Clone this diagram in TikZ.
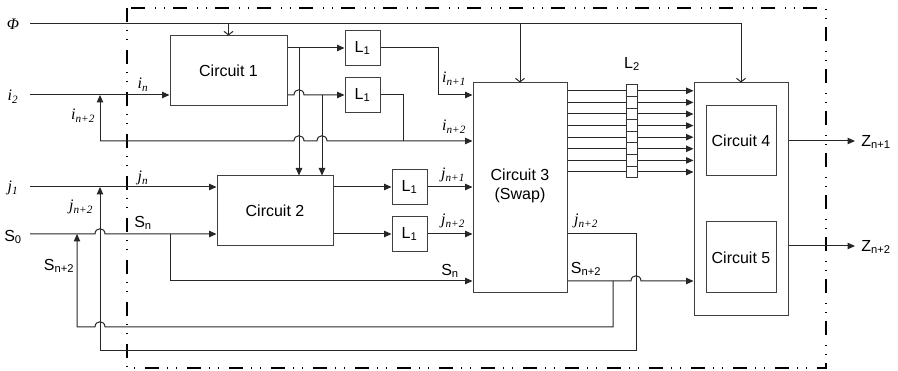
\documentclass[tikz,border=0pt]{standalone}
\usepackage{fontspec}
\setmainfont{Liberation Sans}
\newfontfamily\serifit{Liberation Serif}[ItalicFont={Liberation Serif Italic}]
\usetikzlibrary{arrows.meta}
\newcommand\lab[2]{{\serifit\itshape #1\textsubscript{#2}}}
\newcommand\hopR[2]{-- (#1-5,#2) .. controls (#1-5,#2-7) and (#1+5,#2-7) .. (#1+5,#2)}
\newcommand\hopL[2]{-- (#1+5,#2) .. controls (#1+5,#2-7) and (#1-5,#2-7) .. (#1-5,#2)}
\begin{document}
\begin{tikzpicture}[x=1pt,y=-1pt,
  wire/.style={line width=1pt, draw=black!85},
  arr/.style={-{Triangle[length=7.5pt,width=6.5pt]}},
  oarr/.style={-{Straight Barb[length=3.5pt,width=9pt]}},
  blk/.style={draw=black!75, line width=1pt, inner sep=0pt, font=\fontsize{16}{19}\selectfont, align=center},
  cell/.style={draw=black!80, line width=1pt, minimum width=11pt, minimum height=11.6pt, inner sep=0pt},
  txt/.style={inner sep=0pt, font=\fontsize{16}{19}\selectfont},
  dashbox/.style={draw=black, line width=2pt, dash pattern=on 14pt off 8pt on 1.2pt off 8pt on 1.2pt off 9.6pt}]
\useasboundingbox (0,0) rectangle (898,371);
% frame
\draw[dashbox] (127,8) rectangle (826,368);
% blocks
\node[blk, minimum width=117pt, minimum height=70pt] (c1) at (228.5,71) {Circuit 1};
\node[blk, minimum width=116pt, minimum height=70pt] (c2) at (275,211) {Circuit 2};
\node[blk, minimum width=94pt, minimum height=210pt] (c3) at (520,188) {};
\node[blk, align=center] (c3t) at (520,186) [draw=none] {Circuit 3\\(Swap)};
\node[blk, minimum width=94pt, minimum height=233pt] (c45) at (741,199.5) {};
\node[blk, minimum width=70pt, minimum height=70pt] (c4) at (741,141) {Circuit 4};
\node[blk, minimum width=70pt, minimum height=71pt] (c5) at (741,257.5) {Circuit 5};
\node[blk, minimum width=35pt, minimum height=35pt] (l1a) at (362.5,48) {L\textsubscript{1}};
\node[blk, minimum width=35pt, minimum height=35pt] (l1b) at (362.5,95) {L\textsubscript{1}};
\node[blk, minimum width=35pt, minimum height=35pt] (l1c) at (409.5,187) {L\textsubscript{1}};
\node[blk, minimum width=35pt, minimum height=35pt] (l1d) at (409.5,234) {L\textsubscript{1}};
\foreach \k in {0,...,7} {
  \node[cell] (r\k) at (631.5,90.8+11.6*\k) {};
  \draw[wire] (c3.east |- r\k) -- (r\k.west);
  \draw[wire,arr] (r\k.east) -- (c45.west |- r\k);
}
% input labels
\node[txt] (phi) at (13,24) {\serifit\itshape Φ};
\node[txt] (ii2) at (13,97) {\lab{i}{2}};
\node[txt] (jj1) at (13,188) {\lab{j}{1}};
\node[txt] (ss0) at (13,237) {S\textsubscript{0}};
\coordinate (phis) at (30,24);
\coordinate (i2s) at (30,95);
\coordinate (j1s) at (30,187);
\coordinate (s0s) at (30,234);
% Phi
\draw[wire,oarr] (phis) -| (c45.north);
\draw[wire,oarr] (c1.north |- phis) -- (c1.north);
\draw[wire,oarr] (c3.north |- phis) -- (c3.north);
% i path
\draw[wire,arr] (i2s) -- (i2s -| c1.west);
\draw[wire,arr] (c1.east |- l1a) -- (l1a.west);
\draw[wire,arr] (c1.east |- l1b) \hopR{299}{95} -- (l1b.west);
\coordinate (b1) at (299,48);
\coordinate (b2) at (322,95);
\draw[wire,arr] (b1) -- (b1 |- c2.north);
\draw[wire,arr] (b2) -- (b2 |- c2.north);
\coordinate (k1) at (438,95);
\draw[wire,arr] (l1a.east) -| (k1) -- (k1 -| c3.west);
\coordinate (k2) at (403,141);
\draw[wire] (l1b.east) -| (k2);
\coordinate (fi) at (100,141);
\draw[wire,arr] (fi) \hopR{299}{141} \hopR{322}{141} -- (fi -| c3.west);
\draw[wire,arr] (fi) -- (fi |- i2s);
% j and S inputs
\draw[wire,arr] (j1s) -- (j1s -| c2.west);
\draw[wire,arr] (s0s) \hopR{100}{234} -- (s0s -| c2.west);
\coordinate (sb) at (170,234);
\draw[wire,arr] (sb) -- (170,281) -- (c3.west |- 0,281);
% circuit 2 outputs
\draw[wire,arr] (c2.east |- l1c) -- (l1c.west);
\draw[wire,arr] (c2.east |- l1d) -- (l1d.west);
\draw[wire,arr] (l1c.east) -- (c3.west |- l1c);
\draw[wire,arr] (l1d.east) -- (c3.west |- l1d);
% circuit 3 feedback outputs
\coordinate (jo) at (636,234);
\draw[wire,arr] (c3.east |- jo) -- (jo) -- (636,351) -- (100,351) -- (100,187);
\coordinate (so) at (613,281);
\draw[wire,arr] (c3.east |- so) \hopR{636}{281} -- (c45.west |- so);
\draw[wire,arr] (so) -- (613,327) \hopL{100}{327} -- (77,327) -- (77,234);
% outputs
\coordinate (z1) at (855,141);
\coordinate (z2) at (855,246);
\draw[wire,arr] (c45.east |- z1) -- (z1);
\draw[wire,arr] (c45.east |- z2) -- (z2);
\node[txt] (zl1) at (876,142) {Z\textsubscript{n+1}};
\node[txt] (zl2) at (876,247) {Z\textsubscript{n+2}};
% labels
\node[txt] at (143,85) {\lab{i}{n}};
\node[txt] at (83,116) {\lab{i}{n+2}};
\node[txt] at (454,79) {\lab{i}{n+1}};
\node[txt] at (454,127) {\lab{i}{n+2}};
\node[txt] at (143,178) {\lab{j}{n}};
\node[txt] at (81,207) {\lab{j}{n+2}};
\node[txt] at (143,223) {S\textsubscript{n}};
\node[txt] at (59,266) {S\textsubscript{n+2}};
\node[txt] at (453,175) {\lab{j}{n+1}};
\node[txt] at (453,221) {\lab{j}{n+2}};
\node[txt] at (450,271) {S\textsubscript{n}};
\node[txt] at (586,221) {\lab{j}{n+2}};
\node[txt] at (586,269) {S\textsubscript{n+2}};
\node[txt] at (632,64) {L\textsubscript{2}};
\end{tikzpicture}
\end{document}
